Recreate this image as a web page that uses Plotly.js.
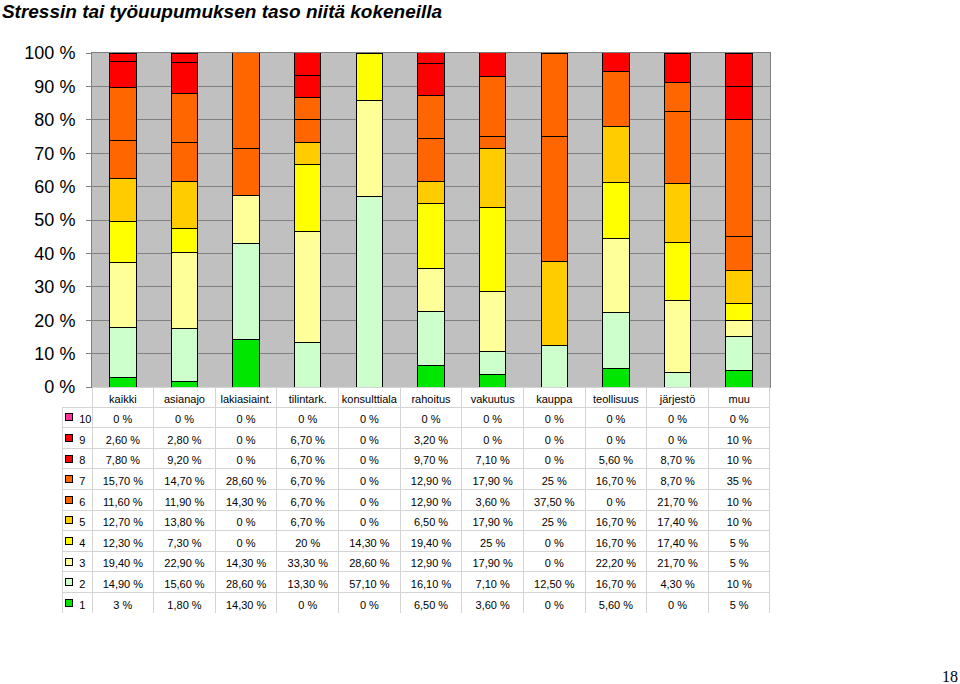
<!DOCTYPE html>
<html>
<head>
<meta charset="utf-8">
<script src="https://cdn.plot.ly/plotly-3.0.1.min.js"></script>
<style>html,body{margin:0;padding:0;background:#fff;}#chart{width:960px;height:684px;}</style>
</head>
<body>
<div id="chart"></div>
<script>
const categories = ["kaikki","asianajo","lakiasiaint.","tilintark.","konsulttiala","rahoitus","vakuutus","kauppa","teollisuus","järjestö","muu"];
const seriesNames = ["1","2","3","4","5","6","7","8","9","10"];
const s1  = [3, 1.8, 14.3, 0, 0, 6.5, 3.6, 0, 5.6, 0, 5];
const s2  = [14.9, 15.6, 28.6, 13.3, 57.1, 16.1, 7.1, 12.5, 16.7, 4.3, 10];
const s3  = [19.4, 22.9, 14.3, 33.3, 28.6, 12.9, 17.9, 0, 22.2, 21.7, 5];
const s4  = [12.3, 7.3, 0, 20, 14.3, 19.4, 25, 0, 16.7, 17.4, 5];
const s5  = [12.7, 13.8, 0, 6.7, 0, 6.5, 17.9, 25, 16.7, 17.4, 10];
const s6  = [11.6, 11.9, 14.3, 6.7, 0, 12.9, 3.6, 37.5, 0, 21.7, 10];
const s7  = [15.7, 14.7, 28.6, 6.7, 0, 12.9, 17.9, 25, 16.7, 8.7, 35];
const s8  = [7.8, 9.2, 0, 6.7, 0, 9.7, 7.1, 0, 5.6, 8.7, 10];
const s9  = [2.6, 2.8, 0, 6.7, 0, 3.2, 0, 0, 0, 0, 10];
const s10 = [0, 0, 0, 0, 0, 0, 0, 0, 0, 0, 0];
const seriesValues = [s1, s2, s3, s4, s5, s6, s7, s8, s9, s10];
const seriesColors = ["#00E600","#CCFFCC","#FFFF99","#FFFF00","#FFCC00","#FF6600","#FF6600","#FF0000","#FF0000","#FF3399"];
const yTicks = [0,10,20,30,40,50,60,70,80,90,100];

const fontFam = "Liberation Sans, Arial, sans-serif";
const NB = "\u00A0";

// geometry (px)
const plotH = 561, tableFrac = 0.4046, headerH = 20, rowH = 20.6;

const traces = [];
seriesValues.forEach((vals, i) => {
  traces.push({
    type: "bar", x: categories, y: vals, name: seriesNames[i],
    marker: {color: seriesColors[i], line: {color: "#000", width: 1}},
    xaxis: "x", yaxis: "y", showlegend: false, hoverinfo: "x+y+name"
  });
});

function fmt(v) {
  if (Math.round(v) === v) return v + NB + "%";
  return v.toFixed(2).replace(".", ",") + NB + "%";
}
// table rows top-down = series 10..1
const order = [9,8,7,6,5,4,3,2,1,0];
const firstCol = order.map(i => NB + NB + NB + seriesNames[i]);
const cols = [firstCol];
categories.forEach((c, ci) => {
  cols.push(order.map(i => fmt(seriesValues[i][ci])));
});
const lineCol = "#D4D4D4";
traces.push({
  type: "table",
  domain: {x: [0, 1], y: [0, tableFrac]},
  columnwidth: [30].concat(categories.map(() => 61.6)),
  header: {
    values: [""].concat(categories),
    align: "center",
    height: headerH,
    fill: {color: ["rgba(0,0,0,0)"].concat(categories.map(() => "#fff"))},
    line: {color: ["rgba(0,0,0,0)"].concat(categories.map(() => lineCol)), width: 1},
    font: {family: fontFam, size: 11, color: "#000"}
  },
  cells: {
    values: cols,
    align: ["left"].concat(categories.map(() => "center")),
    height: rowH,
    fill: {color: "#fff"},
    line: {color: lineCol, width: 1},
    font: {family: fontFam, size: 11, color: "#000"}
  }
});

// legend key boxes in the table's first column
const keyAnns = order.map((si, r) => ({
  text: " ", xref: "paper", yref: "paper",
  x: 6.5/708, xanchor: "center",
  y: tableFrac - (headerH + (r + 0.5) * rowH) / plotH, yanchor: "middle",
  width: 6, height: 6, borderpad: 0, borderwidth: 1,
  bordercolor: "#000", bgcolor: seriesColors[si], showarrow: false,
  font: {size: 4}
}));

const layout = {
  width: 960, height: 684,
  margin: {l: 62, r: 190, t: 53, b: 70, pad: 0},
  paper_bgcolor: "#fff",
  plot_bgcolor: "#C0C0C0",
  barmode: "stack",
  bargap: 0.57,
  showlegend: false,
  font: {family: fontFam, color: "#000"},
  title: {
    text: "Stressin tai työuupumuksen taso niitä kokeneilla",
    xref: "container", yref: "container", x: 0.002, xanchor: "left",
    y: 1 - 11/684, yanchor: "middle",
    font: {family: fontFam, size: 19, weight: "bold", style: "italic", color: "#000"}
  },
  xaxis: {
    domain: [30/708, 1], range: [-0.5, 10.5], type: "category",
    showticklabels: false, ticks: "", showgrid: false,
    showline: true, linecolor: "#808080", linewidth: 1, mirror: true, zeroline: false
  },
  yaxis: {
    domain: [tableFrac, 1], range: [0, 100], tickmode: "array",
    tickvals: yTicks, ticktext: yTicks.map(v => v + " %"),
    ticks: "outside", ticklen: 5, tickcolor: "#808080", ticklabelstandoff: 7,
    tickfont: {family: fontFam, size: 18, color: "#000"},
    showgrid: true, gridcolor: "#808080", gridwidth: 1,
    showline: true, linecolor: "#808080", linewidth: 1, mirror: true, zeroline: false
  },
  annotations: keyAnns.concat([{
    text: "18", xref: "paper", yref: "paper", x: (950 - 62)/708, y: (614 - 676)/561,
    xanchor: "center", yanchor: "middle", showarrow: false,
    font: {family: "Liberation Serif, Times New Roman, serif", size: 16, color: "#000"}
  }])
};
Plotly.newPlot("chart", traces, layout, {displayModeBar: false, staticPlot: true});
</script>
</body>
</html>
